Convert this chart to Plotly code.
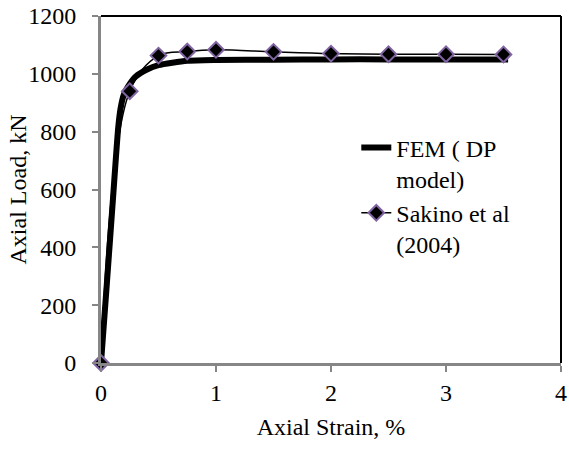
import plotly.graph_objects as go

# FEM (DP model) curve
fem_strain = [0, 0.05, 0.1, 0.15, 0.17, 0.2, 0.25, 0.3, 0.4, 0.5, 0.75, 1.0, 1.5, 2.0, 2.5, 3.0, 3.54]
fem_load = [0, 270, 545, 815, 880, 930, 965, 990, 1015, 1030, 1045, 1048, 1049, 1050, 1050, 1050, 1050]

# Sakino et al (2004) experimental
exp_strain = [0, 0.25, 0.5, 0.75, 1.0, 1.5, 2.0, 2.5, 3.0, 3.5]
exp_load = [0, 940, 1063, 1077, 1083, 1076, 1070, 1068, 1068, 1067]

x_ticks = [0, 1, 2, 3, 4]
y_ticks = [0, 200, 400, 600, 800, 1000, 1200]

FONT = "Liberation Serif"
SZ = 24

fig = go.Figure()
fig.add_trace(go.Scatter(
    x=fem_strain, y=fem_load, mode="lines", name="FEM ( DP<br>model)",
    line=dict(color="black", width=6, shape="spline", smoothing=0.6),
    cliponaxis=False,
))
fig.add_trace(go.Scatter(
    x=exp_strain, y=exp_load, mode="lines+markers", name="Sakino et al<br>(2004)",
    line=dict(color="black", width=1.5, shape="spline", smoothing=1),
    marker=dict(symbol="diamond", size=12, color="black", line=dict(color="#8064A2", width=2)),
    cliponaxis=False,
))

fig.update_layout(
    width=569, height=450,
    margin=dict(l=101, r=8, t=16, b=87, autoexpand=False),
    plot_bgcolor="white", paper_bgcolor="white",
    font=dict(family=FONT, size=SZ, color="black"),
    showlegend=True,
    legend=dict(x=0.555, y=0.685, xanchor="left", yanchor="top", valign="top",
                bgcolor="rgba(0,0,0,0)", font=dict(family=FONT, size=SZ, color="black"),
                tracegroupgap=0),
    xaxis=dict(range=[0, 4], tickvals=x_ticks, showgrid=False, zeroline=False,
               showline=True, linecolor="#868686", linewidth=2.5,
               ticks="outside", ticklen=6, tickcolor="#868686", tickwidth=2,
               automargin=False,
               tickfont=dict(family=FONT, size=SZ, color="black"),
               title=dict(text="Axial Strain, %", standoff=14,
                          font=dict(family=FONT, size=SZ, color="black"))),
    # visible axis line and short ticks, no labels
    yaxis=dict(range=[0, 1200], tickvals=y_ticks, showgrid=False, zeroline=False,
               showline=True, linecolor="#868686", linewidth=2.5,
               ticks="outside", ticklen=6, tickcolor="#868686", tickwidth=2,
               showticklabels=False, automargin=False),
    # tick labels placed farther from the axis
    yaxis2=dict(range=[0, 1200], tickvals=y_ticks, overlaying="y", side="left",
                showgrid=False, zeroline=False, showline=False,
                ticks="outside", ticklen=19, tickcolor="rgba(0,0,0,0)",
                automargin=False,
                tickfont=dict(family=FONT, size=SZ, color="black")),
    annotations=[dict(text="Axial Load, kN", textangle=-90, xref="paper", yref="paper",
                      x=-(101 - 17) / 460, y=0.5, xanchor="center", yanchor="middle",
                      showarrow=False, font=dict(family=FONT, size=SZ, color="black"))],
)
# invisible trace to activate the label axis
fig.add_trace(go.Scatter(x=[None], y=[None], yaxis="y2", showlegend=False, hoverinfo="skip"))

# top and right frame lines
fig.add_shape(type="line", xref="x domain", yref="y domain", x0=0, x1=1, y0=1, y1=1,
              line=dict(color="black", width=2))
fig.add_shape(type="line", xref="x domain", yref="y domain", x0=1, x1=1, y0=0, y1=1,
              line=dict(color="black", width=2))

fig.write_html("out.html")
